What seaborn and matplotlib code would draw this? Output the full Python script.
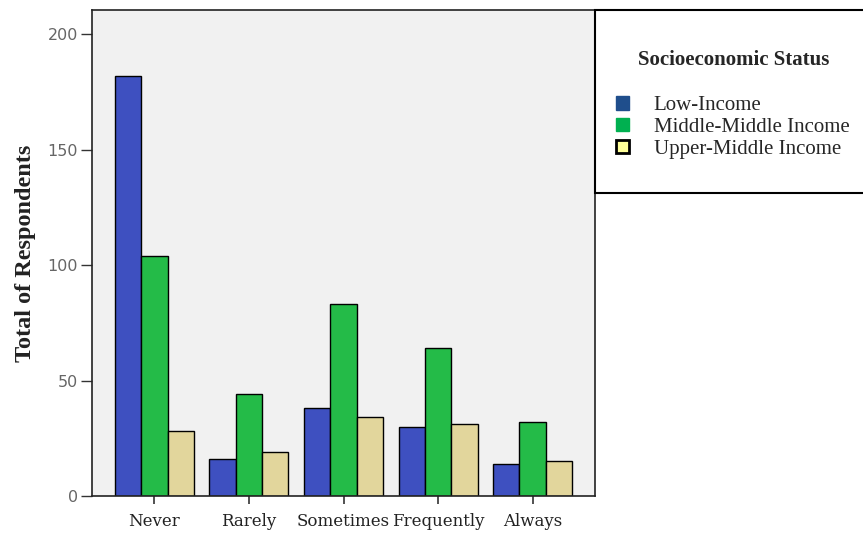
import matplotlib
matplotlib.use("Agg")
import matplotlib.pyplot as plt
from matplotlib.patches import Patch, Rectangle
import pandas as pd
import seaborn as sns

# Frequency of response by socioeconomic group
categories = ["Never", "Rarely", "Sometimes", "Frequently", "Always"]
groups = ["Low-Income", "Middle-Middle Income", "Upper-Middle Income"]
low_income = [182, 16, 38, 30, 14]
middle_middle = [104, 44, 83, 64, 32]
upper_middle = [28, 19, 34, 31, 15]
y_ticks = [0, 50, 100, 150, 200]

bar_colors = ["#3e50c0", "#24bb48", "#e2d69c"]
legend_colors = ["#1f4e8c", "#00b050", "#ffff99"]

rows = []
for cat, a, b, c in zip(categories, low_income, middle_middle, upper_middle):
    rows.append({"Response": cat, "Status": groups[0], "Count": a})
    rows.append({"Response": cat, "Status": groups[1], "Count": b})
    rows.append({"Response": cat, "Status": groups[2], "Count": c})
df = pd.DataFrame(rows)

sns.set_theme(style="white")
plt.rcParams["font.family"] = ["Liberation Serif", "DejaVu Serif"]

W, H = 863, 533
fig = plt.figure(figsize=(W / 100, H / 100), dpi=100)
fig.patch.set_facecolor("white")

ax = fig.add_axes([92 / W, 1 - 496 / H, (595 - 92) / W, (496 - 10) / H])
ax.set_facecolor("#f1f1f1")

sns.barplot(
    data=df, x="Response", y="Count", hue="Status",
    order=categories, hue_order=groups, palette=bar_colors,
    width=0.835, gap=0, edgecolor="black", linewidth=1.0,
    saturation=1, errorbar=None, legend=False, ax=ax,
)

ax.set_xlim(-0.66, 4.66)
ax.set_ylim(0, 210.4)
ax.set_yticks(y_ticks)
ax.set_yticklabels([str(t) for t in y_ticks], fontsize=11.5,
                   family=["DejaVu Sans"], color="#666666")
ax.set_xticks(range(len(categories)))
ax.set_xticklabels(categories, fontsize=12, family=["DejaVu Serif"])
ax.tick_params(axis="y", direction="out", length=8, width=1, color="#333333",
               left=True, pad=2)
ax.tick_params(axis="x", direction="out", length=6, width=1.2, color="#333333",
               bottom=True, pad=6, labelcolor="#222222")
ax.set_xlabel("")
ax.set_ylabel("")
for s in ax.spines.values():
    s.set_color("#222222")
    s.set_linewidth(1.2)
    s.set_visible(True)

fig.text(25 / W, 1 - 253 / H, "Total of Respondents", rotation=90,
         ha="center", va="center", fontsize=17.5, fontweight="bold",
         color="#222222")

# Legend box
box = Rectangle((595 / W, 1 - 193 / H), (W - 595 + 5) / W, (193 - 10) / H,
                transform=fig.transFigure, facecolor="white",
                edgecolor="black", linewidth=1.5, zorder=5)
fig.add_artist(box)
fig.text(734 / W, 1 - 60 / H, "Socioeconomic Status", ha="center",
         va="center", fontsize=15, fontweight="bold", zorder=6)
handles = [
    Patch(facecolor=legend_colors[0], edgecolor=legend_colors[0]),
    Patch(facecolor=legend_colors[1], edgecolor=legend_colors[1]),
    Patch(facecolor=legend_colors[2], edgecolor="black", linewidth=2),
]
leg = fig.legend(handles, groups, loc="upper left",
                 bbox_to_anchor=(608 / W, 1 - 88 / H), frameon=False,
                 fontsize=15, handlelength=0.6, handleheight=0.6,
                 handletextpad=1.2, labelspacing=0.13, borderaxespad=0)
leg.set_zorder(7)

fig.savefig("out.png", dpi=100)
